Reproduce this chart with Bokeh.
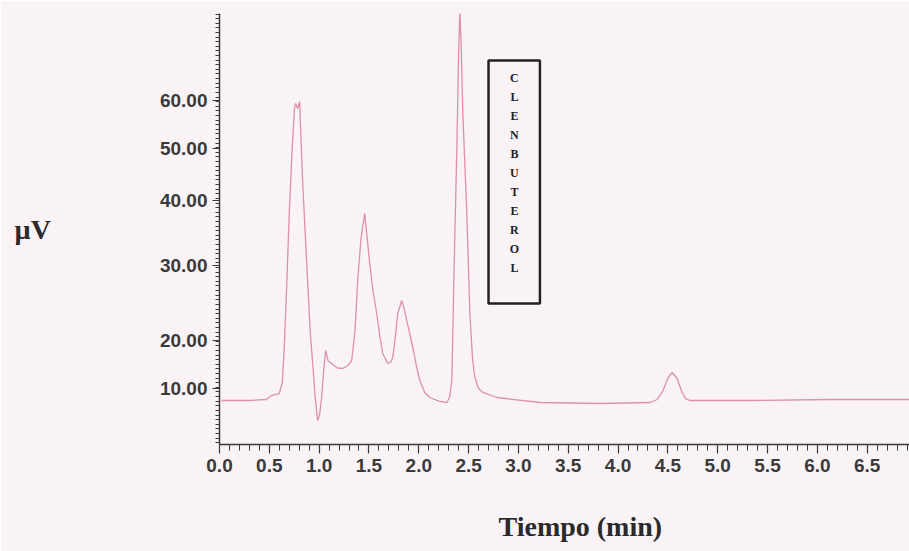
from bokeh.plotting import figure
from bokeh.models import FixedTicker, BoxAnnotation, Range1d, Title
from bokeh.core.properties import value
from bokeh.embed import file_html
from bokeh.resources import INLINE
import numpy as np

# --- data (time in min, signal in axis units) ---
time_min = [0.02, 0.30, 0.47, 0.52, 0.60, 0.63, 0.65, 0.675, 0.70, 0.73, 0.754,
            0.764, 0.784, 0.804, 0.834, 0.86, 0.884, 0.91, 0.935, 0.96, 0.985,
            1.005, 1.025, 1.045, 1.065, 1.09, 1.126, 1.18, 1.236, 1.29, 1.327,
            1.36, 1.387, 1.42, 1.457, 1.48, 1.508, 1.54, 1.578, 1.61, 1.638,
            1.688, 1.72, 1.739, 1.765, 1.789, 1.829, 1.855, 1.879, 1.91, 1.94,
            1.975, 2.01, 2.06, 2.111, 2.20, 2.281, 2.31, 2.332, 2.352, 2.382,
            2.40, 2.412, 2.425, 2.442, 2.482, 2.513, 2.54, 2.563, 2.60, 2.643,
            2.784, 3.216, 3.819, 4.322, 4.392, 4.452, 4.503, 4.543, 4.593, 4.643,
            4.68, 4.724, 5.327, 6.131, 6.925]
signal_uv = [7.92, 7.92, 8.09, 8.78, 9.13, 11.0, 17.1, 28.0, 40.4, 52.0, 58.8,
             59.5, 58.6, 59.8, 46.1, 37.0, 28.75, 20.0, 14.34, 8.5, 4.44,
             5.5, 8.44, 13.0, 16.6, 14.8, 14.34, 13.6, 13.47, 14.0, 14.86,
             20.0, 28.75, 36.0, 40.38, 36.5, 31.7, 27.0, 23.02, 19.0, 16.08,
             14.34, 14.6, 15.38, 19.0, 23.02, 25.28, 23.8, 21.81, 19.5, 17.12,
             14.0, 11.39, 9.3, 8.44, 7.8, 7.57, 8.5, 11.39, 28.75, 51.84,
             68.0, 75.6, 70.0, 57.74, 40.38, 23.02, 15.0, 11.91, 10.0, 9.31,
             8.44, 7.57, 7.40, 7.57, 8.09, 9.65, 11.91, 12.78, 11.74, 9.31,
             8.2, 7.92, 7.92, 8.09, 8.09]

# y tick labels sit at irregular positions on the scanned axis
y_tick_pos = [10.0, 18.33, 31.35, 42.64, 51.67, 60.0]
y_tick_labels = ["10.00", "20.00", "30.00", "40.00", "50.00", "60.00"]
x_tick_pos = [0.0, 0.5, 1.0, 1.5, 2.0, 2.5, 3.0, 3.5, 4.0, 4.5, 5.0, 5.5, 6.0, 6.5]
x_tick_labels = ["0.0", "0.5", "1.0", "1.5", "2.0", "2.5", "3.0", "3.5", "4.0",
                 "4.5", "5.0", "5.5", "6.0", "6.5"]
box_letters = list("CLENBUTEROL")

BG = "#f9f3f6"
INK = "#3a3a3a"

p = figure(width=909, height=551, output_backend="svg", toolbar_location=None,
           x_range=Range1d(0, 6.925), y_range=Range1d(0.28, 75.1),
           min_border_left=219, min_border_right=0, min_border_top=13,
           min_border_bottom=107)
p.background_fill_color = BG
p.border_fill_color = BG
p.outline_line_color = None
p.grid.visible = False

p.line(time_min, signal_uv, line_color="#dc8fae", line_width=1.3)

# axes
xa = p.xaxis[0]
xa.ticker = FixedTicker(ticks=x_tick_pos, minor_ticks=list(np.round(np.arange(0, 6.95, 0.1), 2)))
xa.major_label_overrides = {v: l for v, l in zip(x_tick_pos, x_tick_labels)}
ya = p.yaxis[0]
ya.ticker = FixedTicker(ticks=y_tick_pos, minor_ticks=list(np.arange(0.6, 75.1, 0.8)))
ya.major_label_overrides = {v: l for v, l in zip(y_tick_pos, y_tick_labels)}
for ax in (xa, ya):
    ax.axis_line_color = INK
    ax.axis_line_width = 1.5
    ax.major_tick_line_color = INK
    ax.minor_tick_line_color = INK
    ax.major_tick_line_width = 1.2
    ax.minor_tick_line_width = 1.0
    ax.major_tick_in = 0
    ax.minor_tick_in = 0
    ax.major_label_text_font = "Liberation Sans"
    ax.major_label_text_font_style = "bold"
    ax.major_label_text_font_size = "19px"
    ax.major_label_text_color = INK
xa.major_tick_out = 9
xa.minor_tick_out = 6
xa.major_label_standoff = 5
ya.major_tick_out = 7
ya.minor_tick_out = 4
ya.major_label_standoff = 5

# blank spacer label under the x tick labels (pushes the title down)
xa.axis_label = " "
xa.axis_label_text_font_size = "10px"
xa.axis_label_standoff = 17

# y axis label, horizontal, far left
ya.axis_label = "µV"
ya.axis_label_orientation = "horizontal"
ya.axis_label_standoff = 106
ya.axis_label_text_font = "Liberation Serif"
ya.axis_label_text_font_style = "bold"
ya.axis_label_text_font_size = "28px"
ya.axis_label_text_color = "#2a2a2a"

# x label as a title below the axis, offset to its position on the page
p.add_layout(Title(text="Tiempo (min)", align="left", offset=279, standoff=6,
                   text_font="Liberation Serif", text_font_style="bold",
                   text_font_size="28px", text_color="#2a2a2a"), "below")

# CLENBUTEROL box
p.add_layout(BoxAnnotation(left=2.70, right=3.216, top=66.94, bottom=24.76,
                           fill_color=None, fill_alpha=0, line_color="#222222",
                           line_alpha=1.0, line_width=2.5))
letter_y = list(np.linspace(63.9, 30.9, len(box_letters)))
p.text(x=[2.96] * len(box_letters), y=letter_y, text=box_letters,
       text_font=value("Liberation Serif"), text_font_style="bold",
       text_font_size="12px", text_color="#222222",
       text_align="center", text_baseline="middle")

open("out.html", "w").write(file_html(p, INLINE))
